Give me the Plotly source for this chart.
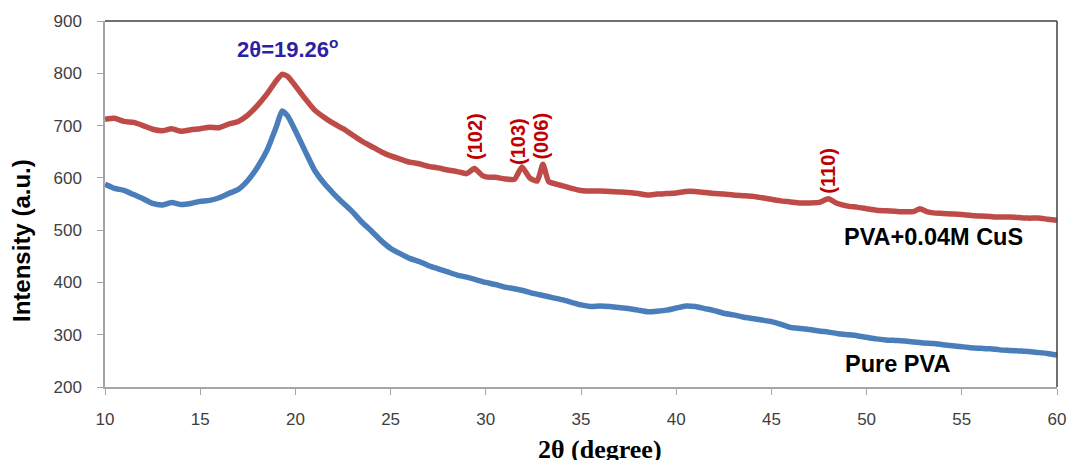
import plotly.graph_objects as go

# ---- data ----
cus_x = [10.0, 10.5, 11.0, 11.5, 12.0, 12.5, 13.0, 13.5, 14.0, 14.5, 15.0, 15.5, 16.0, 16.5, 17.0, 17.5,
         18.0, 18.5, 19.0, 19.3, 19.6, 20.0, 20.5, 21.0, 21.5, 22.0, 22.5, 23.0, 23.5, 24.0, 24.5, 25.0,
         25.5, 26.0, 26.5, 27.0, 27.5, 28.0, 28.5, 29.0, 29.4, 29.8, 30.0, 30.5, 31.0, 31.5, 31.9, 32.3,
         32.7, 33.0, 33.3, 33.7, 34.0, 34.5, 35.0, 35.5, 36.0, 36.5, 37.0, 37.5, 38.0, 38.5, 39.0, 39.5,
         40.0, 40.5, 41.0, 41.5, 42.0, 42.5, 43.0, 43.5, 44.0, 44.5, 45.0, 45.5, 46.0, 46.5, 47.0, 47.5,
         48.0, 48.4, 49.0, 49.5, 50.0, 50.5, 51.0, 51.5, 52.0, 52.5, 52.8, 53.2, 53.5, 54.0, 54.5, 55.0,
         55.5, 56.0, 56.5, 57.0, 57.5, 58.0, 58.5, 59.0, 59.5, 60.0]
cus_y = [712, 714, 708, 706, 700, 693, 690, 694, 689, 692, 694, 697, 696, 703, 708, 720,
         738, 760, 786, 798, 794, 776, 752, 730, 716, 704, 694, 682, 670, 660, 650, 642,
         636, 630, 627, 622, 619, 615, 612, 608, 618, 605, 602, 601, 598, 597, 621, 600,
         594, 626, 593, 588, 585, 580, 576, 575, 575, 574, 573, 572, 570, 567, 569, 570,
         571, 574, 574, 572, 570, 569, 567, 566, 565, 562, 559, 556, 554, 552, 552, 553,
         560, 552, 546, 544, 541, 538, 537, 536, 535, 536, 541, 535, 533, 532, 531, 530,
         528, 527, 526, 525, 525, 524, 523, 523, 521, 519]

pva_x = [10.0, 10.5, 11.0, 11.5, 12.0, 12.5, 13.0, 13.5, 14.0, 14.5, 15.0, 15.5, 16.0, 16.5, 17.0, 17.5,
         18.0, 18.5, 19.0, 19.3, 19.6, 20.0, 20.5, 21.0, 21.5, 22.0, 22.5, 23.0, 23.5, 24.0, 24.5, 25.0,
         25.5, 26.0, 26.5, 27.0, 27.5, 28.0, 28.5, 29.0, 29.5, 30.0, 30.5, 31.0, 31.5, 32.0, 32.5, 33.0,
         33.5, 34.0, 34.5, 35.0, 35.5, 36.0, 36.5, 37.0, 37.5, 38.0, 38.5, 39.0, 39.5, 40.0, 40.5, 41.0,
         41.5, 42.0, 42.5, 43.0, 43.5, 44.0, 44.5, 45.0, 45.5, 46.0, 46.5, 47.0, 47.5, 48.0, 48.5, 49.0,
         49.5, 50.0, 50.5, 51.0, 51.5, 52.0, 52.5, 53.0, 53.5, 54.0, 54.5, 55.0, 55.5, 56.0, 56.5, 57.0,
         57.5, 58.0, 58.5, 59.0, 59.5, 60.0]
pva_y = [588, 580, 576, 568, 560, 551, 548, 553, 549, 551, 555, 557, 562, 570, 578, 595,
         620, 652, 698, 728, 718, 690, 652, 615, 590, 570, 552, 535, 515, 498, 480, 465,
         455, 446, 440, 432, 426, 420, 414, 410, 405, 400, 396, 391, 388, 384, 379, 375,
         371, 367, 362, 357, 354, 355, 354, 352, 350, 347, 344, 345, 347, 351, 355, 354,
         350, 346, 341, 338, 334, 331, 328, 325, 320, 314, 312, 310, 307, 305, 302, 300,
         298, 295, 292, 290, 289, 288, 286, 284, 283, 281, 279, 277, 275, 274, 273, 271,
         270, 269, 268, 266, 264, 261]

x_ticks = [10, 15, 20, 25, 30, 35, 40, 45, 50, 55, 60]
y_ticks = [200, 300, 400, 500, 600, 700, 800, 900]

peak_labels = ["(102)", "(103)", "(006)", "(110)"]
peak_label_x = [29.4, 31.7, 32.9, 47.95]
peak_label_y = [679, 669, 679, 613]

fig = go.Figure()
fig.add_trace(go.Scatter(x=pva_x, y=pva_y, mode="lines", name="Pure PVA",
                         line=dict(color="#4A7EBB", width=5.5, shape="spline", smoothing=0.5),
                         showlegend=False))
fig.add_trace(go.Scatter(x=cus_x, y=cus_y, mode="lines", name="PVA+0.04M CuS",
                         line=dict(color="#BE4B48", width=5.5, shape="spline", smoothing=0.5),
                         showlegend=False))

tick_font = dict(family="Liberation Sans, Arial, sans-serif", size=17, color="#404040")

fig.update_xaxes(range=[10, 60], tickvals=x_ticks, showline=True, linecolor="#A6A6A6", linewidth=1.5,
                 ticks="outside", ticklen=6, tickcolor="#A6A6A6", showgrid=False, zeroline=False,
                 tickfont=tick_font, ticklabelstandoff=10, automargin=False)
fig.update_yaxes(range=[200, 900], tickvals=y_ticks, showline=True, linecolor="#A6A6A6", linewidth=1.5,
                 ticks="outside", ticklen=6, tickcolor="#A6A6A6", showgrid=False, zeroline=False,
                 tickfont=tick_font, ticklabelstandoff=12, automargin=False)

# top and right border
fig.add_shape(type="line", xref="paper", yref="paper", x0=0, x1=1, y0=1, y1=1,
              line=dict(color="#404040", width=1.5))
fig.add_shape(type="line", xref="paper", yref="paper", x0=1, x1=1, y0=0, y1=1,
              line=dict(color="#404040", width=1.5))

label_font = "Liberation Sans, Arial, sans-serif"
fig.add_annotation(x=19.6, y=848, xref="x", yref="y", text="<b>2θ=19.26<sup>o</sup></b>", showarrow=False,
                   font=dict(family=label_font, size=22, color="#2E1FA3"))
for t, px, py in zip(peak_labels, peak_label_x, peak_label_y):
    fig.add_annotation(x=px, y=py, xref="x", yref="y", text="<b>" + t + "</b>", textangle=-90,
                       showarrow=False, font=dict(family=label_font, size=20, color="#C00000"))
fig.add_annotation(x=48.7, y=487, xref="x", yref="y", text="<b>PVA+0.04M CuS</b>", showarrow=False,
                   xanchor="left", yanchor="middle",
                   font=dict(family=label_font, size=23.5, color="#000000"))
fig.add_annotation(x=48.75, y=244, xref="x", yref="y", text="<b>Pure PVA</b>", showarrow=False,
                   xanchor="left", yanchor="middle",
                   font=dict(family=label_font, size=23.5, color="#000000"))
fig.add_annotation(x=0, y=0.399, xref="paper", yref="paper", text="<b>Intensity (a.u.)</b>", textangle=-90,
                   showarrow=False, xanchor="center", yanchor="middle", xshift=-83,
                   font=dict(family=label_font, size=24, color="#000000"))
fig.add_annotation(x=0.52, y=0, xref="paper", yref="paper", text="<b>2θ (degree)</b>", showarrow=False,
                   yanchor="top", yshift=-46,
                   font=dict(family="Liberation Serif, Times New Roman, serif", size=26, color="#000000"))

fig.update_layout(width=1068, height=460, margin=dict(l=105, r=11, t=21, b=73, autoexpand=False),
                  plot_bgcolor="white", paper_bgcolor="white")

fig.write_html("out.html", config={"displayModeBar": False},
               post_script="document.body.style.margin='0';document.body.style.overflow='hidden';")
